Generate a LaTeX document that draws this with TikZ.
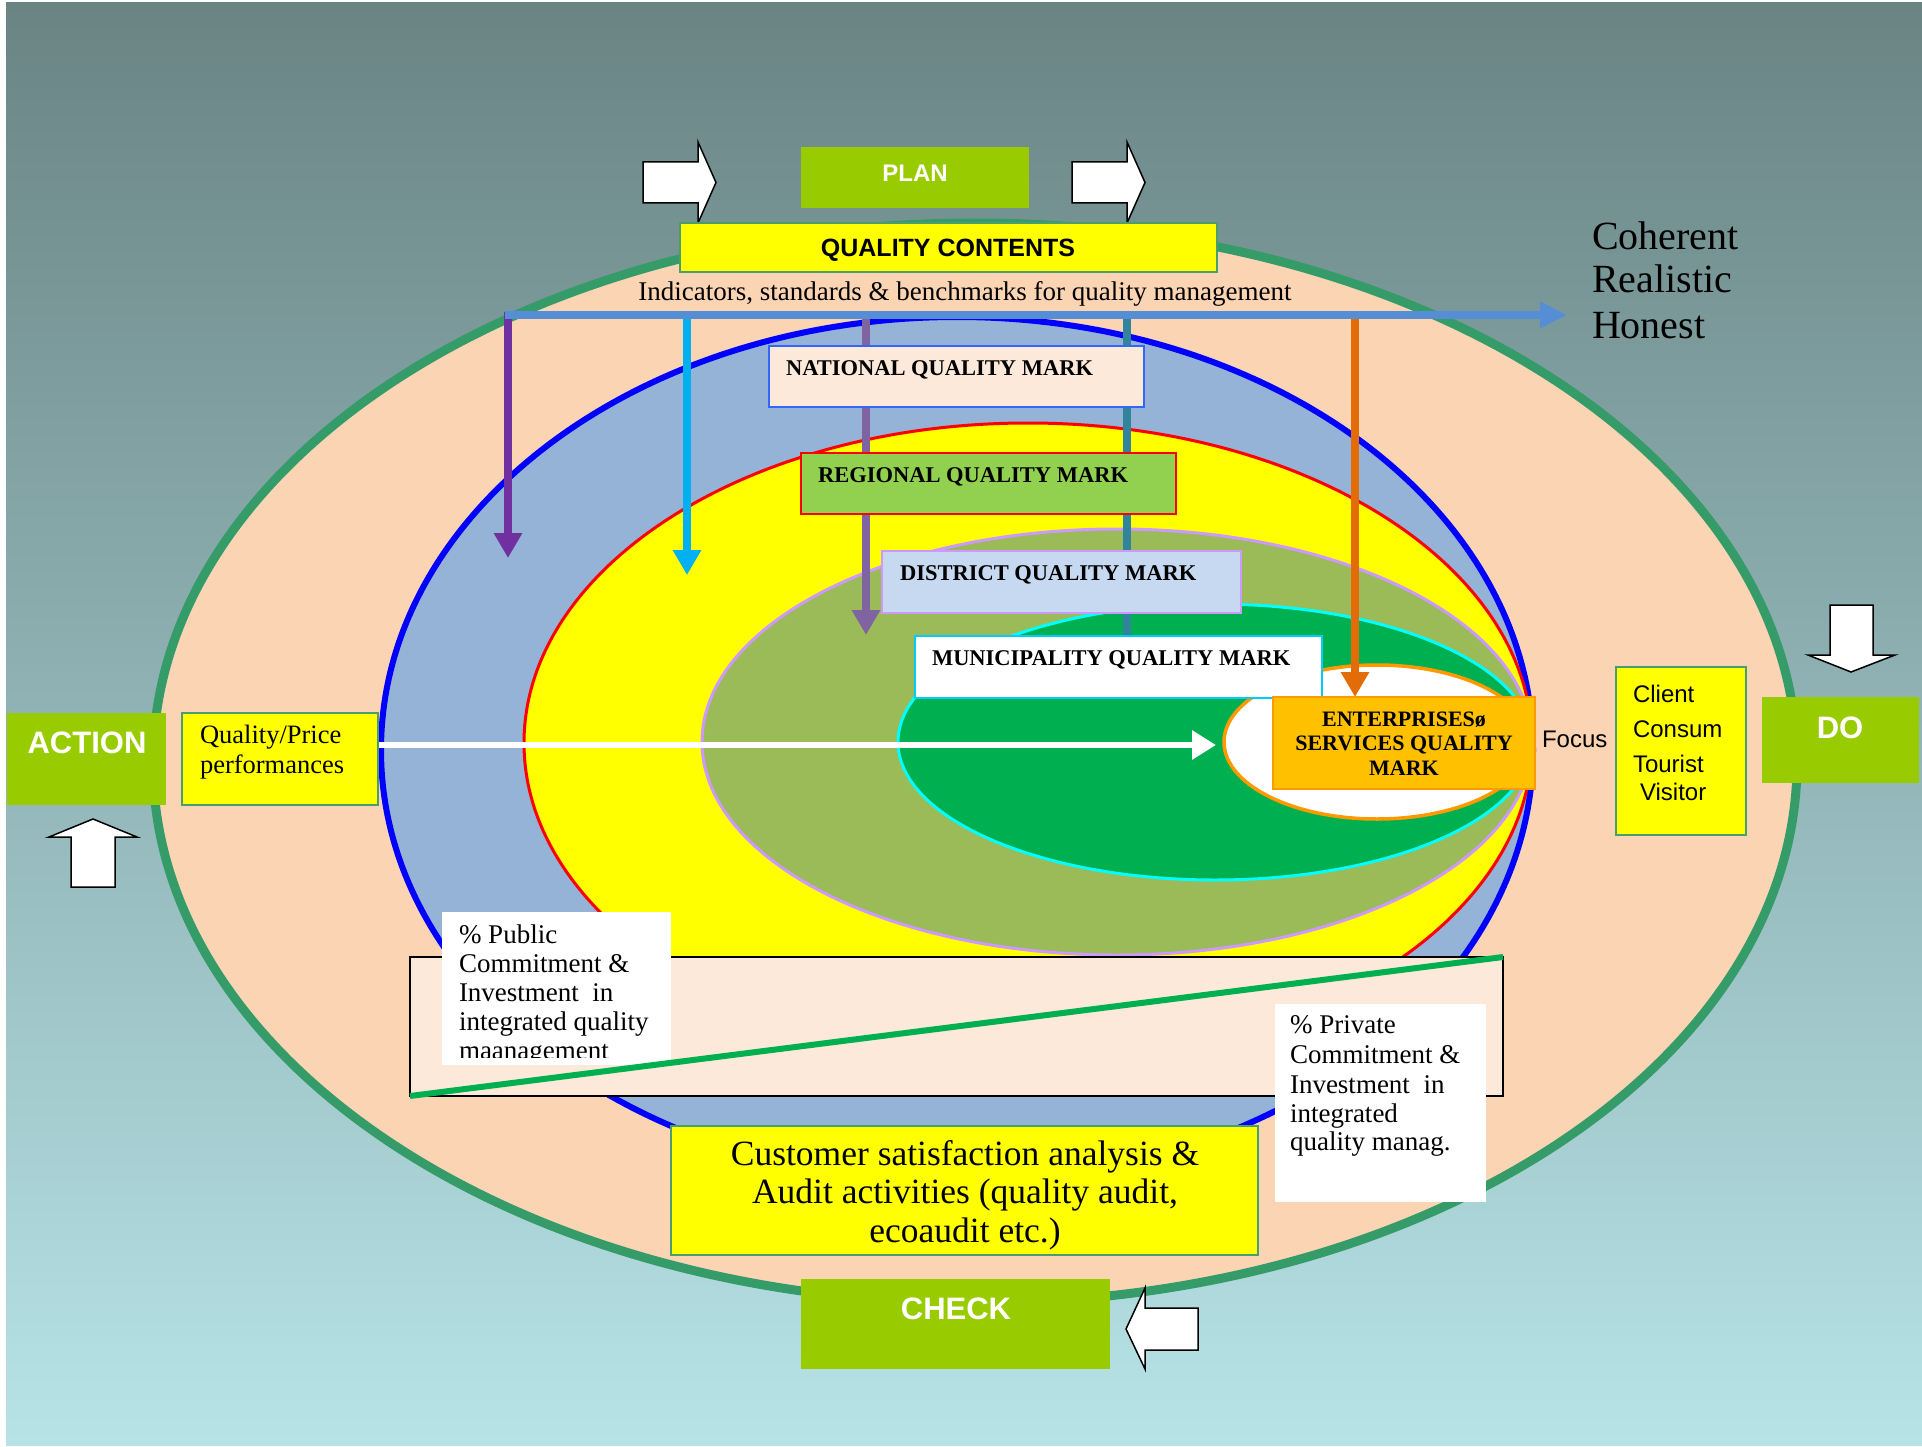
\documentclass[tikz,border=0pt]{standalone}
\usepackage{fontspec}
\setmainfont{Liberation Serif}
\newfontfamily\arialf{Liberation Sans}
\usetikzlibrary{arrows.meta,fit}
\definecolor{bgtop}{HTML}{6A8484}
\definecolor{bgbot}{HTML}{B7E3E7}
\definecolor{peach}{HTML}{FBD4B4}
\definecolor{ringg}{HTML}{359B69}
\definecolor{bluef}{HTML}{95B3D7}
\definecolor{bluel}{HTML}{0000FF}
\definecolor{redl}{HTML}{FF0000}
\definecolor{yel}{HTML}{FFFF00}
\definecolor{cyanl}{HTML}{00FFFF}
\definecolor{olivef}{HTML}{9BBB59}
\definecolor{lavl}{HTML}{CC99FF}
\definecolor{deepg}{HTML}{00B050}
\definecolor{orgline}{HTML}{FF9900}
\definecolor{boxg}{HTML}{99CC00}
\definecolor{hblue}{HTML}{558ED5}
\definecolor{purp}{HTML}{7030A0}
\definecolor{skyb}{HTML}{00B0F0}
\definecolor{pgray}{HTML}{8064A2}
\definecolor{tealx}{HTML}{31849B}
\definecolor{orng}{HTML}{E36C09}
\definecolor{pinkf}{HTML}{FDE9D9}
\definecolor{natb}{HTML}{3366FF}
\definecolor{regf}{HTML}{92D050}
\definecolor{disf}{HTML}{C6D9F1}
\definecolor{munb}{HTML}{00CCFF}
\definecolor{entf}{HTML}{FFC000}
\definecolor{yboxb}{HTML}{4A9E6E}
\begin{document}
\begin{tikzpicture}[x=1pt,y=-1pt,
  txt/.style={inner sep=0pt, outer sep=0pt, text=black},
  tsf/.style={txt, font=\fontsize{#1}{#1}\selectfont},
  tbf/.style={txt, font=\bfseries\fontsize{#1}{#1}\selectfont},
  asf/.style={txt, font=\arialf\fontsize{#1}{#1}\selectfont},
  abf/.style={txt, font=\arialf\bfseries\fontsize{#1}{#1}\selectfont},
  frame/.style={inner sep=0pt, outer sep=0pt},
  ybox/.style={frame, fill=yel, draw=yboxb, line width=2pt},
  gbox/.style={frame, fill=boxg},
  mbox/.style={frame, line width=2pt},
  blockarrow/.style={fill=white, draw=black, line width=1.5pt, line join=miter},
  vline/.style={line width=8.5pt},
  vtip/.style={-{Triangle[length=25pt,width=27pt]}}
]
\useasboundingbox (0,0) rectangle (1922,1447);
\fill[white] (0,0) rectangle (1922,1447);
\shade[top color=bgtop, bottom color=bgbot] (6,3) rectangle (1922,1445);

% nested ellipses
\draw[line width=9pt, draw=ringg, fill=peach] (975,763) ellipse [x radius=822pt, y radius=540pt];
\draw[line width=6pt, draw=bluel, fill=bluef] (957,750) ellipse [x radius=576pt, y radius=433pt];
\draw[line width=3pt, draw=redl, fill=yel] (1028,743) ellipse [x radius=504pt, y radius=320pt];
\draw[line width=3pt, draw=lavl, fill=olivef] (1117,742) ellipse [x radius=415pt, y radius=213pt];
\draw[line width=3pt, draw=cyanl, fill=deepg] (1215,742) ellipse [x radius=317pt, y radius=138pt];
\draw[line width=3.5pt, draw=orgline, fill=white] (1377,742) ellipse [x radius=153pt, y radius=77pt];

% PLAN row
\node[gbox, fit={(801,147) (1029,208)}] (plan) {};
\node[abf=24, text=white, anchor=base] (plantxt) at (915,182) {PLAN};
\draw[blockarrow] (643,162) -- (698,162) -- (698,142) -- (716,182.5) -- (698,223) -- (698,203) -- (643,203) -- cycle;
\draw[blockarrow] (1072,162) -- (1127,162) -- (1127,142) -- (1145,182.5) -- (1127,223) -- (1127,203) -- (1072,203) -- cycle;

\node[ybox, fit={(680,223) (1217,272)}] (qc) {};
\node[abf=25, anchor=base] (qctxt) at (948,257) {QUALITY CONTENTS};
\node[tsf=27, anchor=base] (indtxt) at (965,301) {Indicators, standards \& benchmarks for quality management};

% arrows from the indicator line
\coordinate (hstart) at (505,315);
\coordinate (hend) at (1567,315);
\coordinate (pa1) at (508,312); \coordinate (pa2) at (508,558);
\coordinate (sa1) at (687,312); \coordinate (sa2) at (687,575);
\coordinate (ga1) at (866,312); \coordinate (ga2) at (866,635);
\coordinate (ta1) at (1127,312); \coordinate (ta2) at (1127,636);
\coordinate (oa1) at (1355,312); \coordinate (oa2) at (1355,697);
\draw[vline, purp, vtip] (pa1) -- (pa2);
\draw[vline, skyb, vtip] (sa1) -- (sa2);
\draw[vline, pgray, vtip] (ga1) -- (ga2);
\draw[vline, tealx] (ta1) -- (ta2);
\draw[vline, orng, vtip] (oa1) -- (oa2);
\draw[line width=7.5pt, hblue, -{Triangle[length=27pt,width=25pt]}] (hstart) -- (hend);

\foreach \t/\yy [count=\i] in {Coherent/250, Realistic/293, Honest/338}
  \node[tsf=40, anchor=base west] (coh\i) at (1592,\yy) {\t};

% quality marks
\node[mbox, fill=pinkf, draw=natb, fit={(769,346) (1144,407)}] (nat) {};
\node[tbf=22.5, anchor=base west] (nattxt) at (786,375) {NATIONAL QUALITY MARK};
\node[mbox, fill=regf, draw=redl, fit={(801,453) (1176,514)}] (reg) {};
\node[tbf=22.5, anchor=base west] (regtxt) at (818,482) {REGIONAL QUALITY MARK};
\node[mbox, fill=disf, draw=lavl, fit={(882,551) (1241,613)}] (dis) {};
\node[tbf=22.5, anchor=base west] (distxt) at (900,580) {DISTRICT QUALITY MARK};
\node[mbox, fill=white, draw=munb, fit={(915,636) (1322,698)}] (mun) {};
\node[tbf=22.5, anchor=base west] (muntxt) at (932,665) {MUNICIPALITY QUALITY MARK};
\node[mbox, fill=entf, draw=orgline, fit={(1273,697) (1535,789)}] (ent) {};
\foreach \t/\yy [count=\i] in {ENTERPRISESø/726, SERVICES QUALITY/750, MARK/775}
  \node[tbf=22, anchor=base] (ent\i) at (1404,\yy) {\t};

% left side
\node[gbox, fit={(7,713) (166,805)}] (act) {};
\node[abf=31, text=white, anchor=base] (acttxt) at (87,753) {ACTION};
\draw[blockarrow] (71,887) -- (71,837) -- (49,837) -- (93,819) -- (137,837) -- (115,837) -- (115,887) -- cycle;
\node[ybox, fit={(182,713) (378,805)}] (qp) {};
\node[tsf=26.5, anchor=base west] (qp1) at (200,743) {Quality/Price};
\node[tsf=26.5, anchor=base west] (qp2) at (200,773) {performances};
\coordinate (wa1) at (379,745);
\coordinate (wa2) at (1216,745);
\draw[line width=6pt, white, -{Triangle[length=24pt,width=28pt]}] (wa1) -- (wa2);

% right side
\node[asf=24, anchor=base west] (focus) at (1542,747) {Focus};
\node[ybox, fit={(1616,667) (1746,835)}] (cli) {};
\foreach \t/\yy [count=\i] in {Client/702, Consum/737, Tourist/772}
  \node[asf=24, anchor=base west] (cli\i) at (1633,\yy) {\t};
\node[asf=24, anchor=base west] (cli4) at (1640,800) {Visitor};
\node[gbox, fit={(1762,697) (1919,783)}] (do) {};
\node[abf=31, text=white, anchor=base] (dotxt) at (1840,738) {DO};
\draw[blockarrow] (1830,605) -- (1873,605) -- (1873,655) -- (1895,655) -- (1851,672) -- (1808,655) -- (1830,655) -- cycle;

% commitment bar
\node[frame, fill=pinkf, draw=black, line width=2pt, fit={(410,957) (1503,1096)}] (share) {};
\node[frame, fill=white, fit={(442,912) (671,1065)}] (pub) {};
\begin{scope}
\clip (442,912) rectangle (671,1057);
\foreach \t/\yy [count=\i] in {\%\ Public/943, Commitment \&/972, Investment\ \ in/1001, integrated quality/1030, maanagement/1059}
  \node[tsf=27, anchor=base west] (pub\i) at (459,\yy) {\t};
\end{scope}
\node[frame, fill=white, fit={(1275,1004) (1486,1202)}] (priv) {};
\foreach \t/\yy [count=\i] in {\%\ Private/1033, Commitment \&/1063, Investment\ \ in/1093, integrated/1122, quality manag./1150}
  \node[tsf=27, anchor=base west] (priv\i) at (1290,\yy) {\t};
\draw[line width=6pt, deepg] (share.south west) -- (share.north east);

% bottom
\node[ybox, fit={(671,1126) (1258,1255)}] (cust) {};
\foreach \t/\yy [count=\i] in {{Customer satisfaction analysis \&}/1165, {Audit activities (quality audit,}/1203, {ecoaudit etc.)}/1242}
  \node[tsf=35.5, anchor=base] (cust\i) at (965,\yy) {\t};
\node[gbox, fit={(801,1279) (1110,1369)}] (check) {};
\node[abf=31, text=white, anchor=base] (checktxt) at (956,1319) {CHECK};
\draw[blockarrow] (1198,1308) -- (1145,1308) -- (1145,1288) -- (1126,1329) -- (1145,1369) -- (1145,1350) -- (1198,1350) -- cycle;
\end{tikzpicture}
\end{document}
